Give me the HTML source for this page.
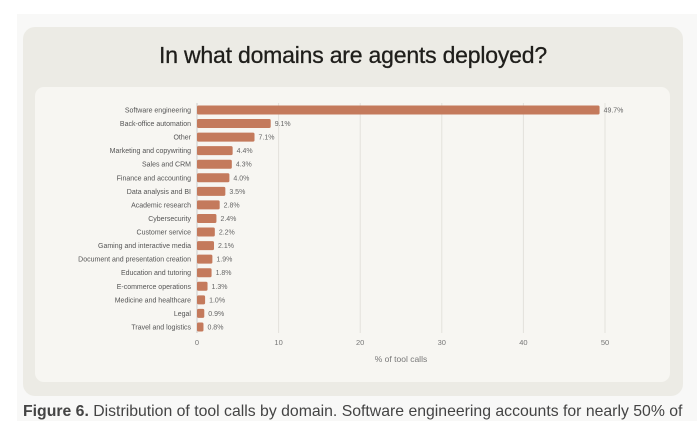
<!DOCTYPE html>
<html><head><style>
body{margin:0;width:697px;height:421px;overflow:hidden;background:#fff;font-family:"Liberation Sans",sans-serif;position:relative}
.bg{position:absolute;left:17px;top:14px;width:680px;height:407px;background:#f8f8f7}
.outer{position:absolute;left:23px;top:27px;width:660px;height:369px;background:#ecebe5;border-radius:12px}
.inner{position:absolute;left:35px;top:87px;width:635px;height:295px;background:#f7f6f2;border-radius:9px}
.title{position:absolute;left:23px;width:660px;top:42px;text-align:center;font-size:23px;color:#1f1e1b;letter-spacing:-0.2px;-webkit-text-stroke:0.3px #1f1e1b}
.cap{position:absolute;left:23px;top:403px;font-size:15.8px;color:#444;white-space:nowrap}
</style></head><body>
<div class="bg"></div><div class="outer"></div><div class="inner"></div>
<div class="title">In what domains are agents deployed?</div>
<svg width="697" height="421" style="position:absolute;left:0;top:0" font-family="Liberation Sans, sans-serif">
<g stroke="#e3e1dc" stroke-width="1">
<line x1="278.6" y1="103" x2="278.6" y2="333"/><line x1="360.2" y1="103" x2="360.2" y2="333"/><line x1="441.8" y1="103" x2="441.8" y2="333"/><line x1="523.4" y1="103" x2="523.4" y2="333"/><line x1="605" y1="103" x2="605" y2="333"/>
<line x1="197" y1="103" x2="197" y2="333" stroke="#ccc"/>
</g>
<g id="bars" fill="#c47a5c" font-size="7" >
</g>
<g font-size="7.5" fill="#777" text-anchor="middle">
<text x="197" y="345">0</text><text x="278.6" y="345">10</text><text x="360.2" y="345">20</text><text x="441.8" y="345">30</text><text x="523.4" y="345">40</text><text x="605" y="345">50</text>
<text x="401" y="362" font-size="8.5">% of tool calls</text>
</g>
</svg>
<div class="cap"><b>Figure 6.</b> Distribution of tool calls by domain. Software engineering accounts for nearly 50% of</div>
<script>
var d=[["Software engineering",49.7],["Back-office automation",9.1],["Other",7.1],["Marketing and copywriting",4.4],["Sales and CRM",4.3],["Finance and accounting",4.0],["Data analysis and BI",3.5],["Academic research",2.8],["Cybersecurity",2.4],["Customer service",2.2],["Gaming and interactive media",2.1],["Document and presentation creation",1.9],["Education and tutoring",1.8],["E-commerce operations",1.3],["Medicine and healthcare",1.0],["Legal",0.9],["Travel and logistics",0.8]];
var g=document.getElementById('bars'),s='';
d.forEach(function(r,i){var y=110+i*13.56,w=r[1]*8.1;
s+='<rect x="197" y="'+(y-4.5)+'" width="'+w+'" height="9" rx="1.5"/>';
s+='<text x="191" y="'+(y+2.5)+'" text-anchor="end" fill="#555">'+r[0]+'</text>';
s+='<text x="'+(197+w+4)+'" y="'+(y+2.5)+'" fill="#666">'+r[1].toFixed(1)+'%</text>';});
g.innerHTML=s;
</script>
</body></html>
